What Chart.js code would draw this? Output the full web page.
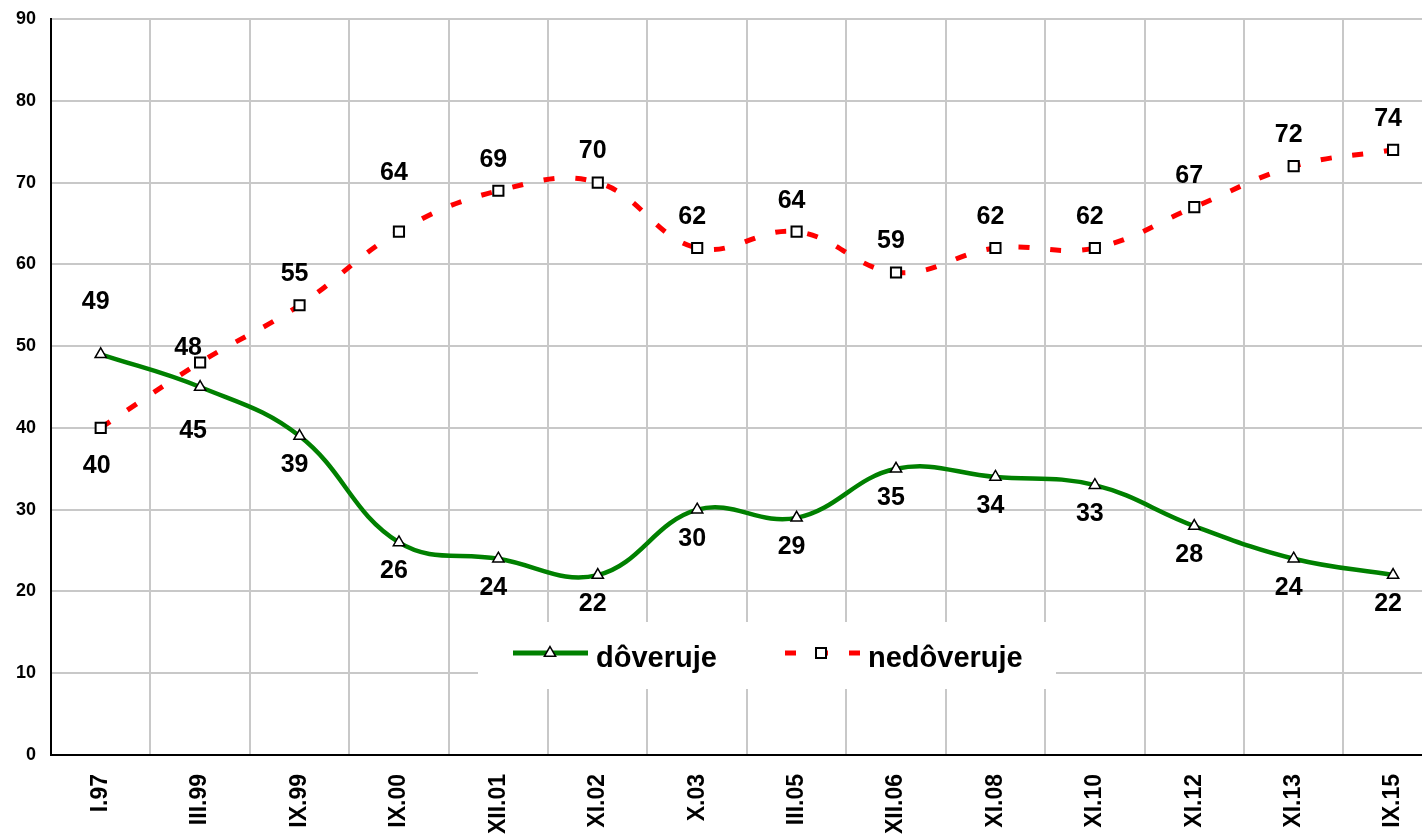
<!DOCTYPE html>
<html>
<head>
<meta charset="utf-8">
<script src="https://cdn.jsdelivr.net/npm/chart.js@4.4.1/dist/chart.umd.min.js"></script>
<style>
    html, body { margin: 0; padding: 0; background: #fff; overflow: hidden; }
    canvas { display: block; }
</style>
</head>
<body>
<canvas id="chart" width="1452" height="838"></canvas>
<script>
const periods = ['I.97', 'III.99', 'IX.99', 'IX.00', 'XII.01', 'XI.02', 'X.03', 'III.05', 'XII.06', 'XI.08', 'XI.10', 'XI.12', 'XI.13', 'IX.15'];
const trustValues = [49, 45, 39, 26, 24, 22, 30, 29, 35, 34, 33, 28, 24, 22];
const distrustValues = [40, 48, 55, 64, 69, 70, 62, 64, 59, 62, 62, 67, 72, 74];
const seriesNames = ['dôveruje', 'nedôveruje'];
const yMin = 0, yMax = 90, yStep = 10;

const FONT = '"Liberation Sans", Arial, sans-serif';
const GREEN = '#008000';
const RED = '#ff0000';
const GRID = '#c8c8c8';

// where each value label sits relative to its point: [dx, dy]
const labelShift = [
    (i) => i === 0 ? [-5, -52] : i === 1 ? [-7, 44] : [-5, 29],
    (i) => i === 0 ? [-4, 38] : i === 1 ? [-12, -14] : i === 3 ? [-5, -59] : [-5, -31],
];

const valueLabels = {
    id: 'valueLabels',
    afterDatasetsDraw(chart) {
        const ctx = chart.ctx;
        ctx.save();
        ctx.font = `bold 25px ${FONT}`;
        ctx.fillStyle = '#000';
        ctx.textAlign = 'center';
        ctx.textBaseline = 'middle';
        chart.data.datasets.forEach((ds, d) => {
            chart.getDatasetMeta(d).data.forEach((pt, i) => {
                const [dx, dy] = labelShift[d](i);
                ctx.fillText(String(ds.data[i]), pt.x + dx, pt.y + dy);
            });
        });
        ctx.restore();
    }
};

const drawMarker = (ctx, style, x, y) => {
    ctx.save();
    ctx.fillStyle = '#fff';
    ctx.strokeStyle = '#000';
    ctx.setLineDash([]);
    ctx.beginPath();
    if (style === 'triangle') {
        ctx.lineWidth = 1.5;
        const r = 6.5;
        ctx.moveTo(x, y - r);
        ctx.lineTo(x + r * 0.866, y + r * 0.5);
        ctx.lineTo(x - r * 0.866, y + r * 0.5);
        ctx.closePath();
    } else {
        ctx.lineWidth = 2;
        ctx.rect(x - 5, y - 5, 10, 10);
    }
    ctx.fill();
    ctx.stroke();
    ctx.restore();
};

// legend box sits inside the plot, over the gridlines
const innerLegend = {
    id: 'innerLegend',
    beforeDatasetsDraw(chart) {
        const ctx = chart.ctx;
        const y = 653;
        ctx.save();
        ctx.fillStyle = '#fff';
        ctx.fillRect(478, 622, 578, 67);

        ctx.strokeStyle = GREEN;
        ctx.lineWidth = 5;
        ctx.beginPath();
        ctx.moveTo(513, y);
        ctx.lineTo(588, y);
        ctx.stroke();
        drawMarker(ctx, 'triangle', 550, y);

        ctx.strokeStyle = RED;
        ctx.setLineDash([11, 21]);
        ctx.beginPath();
        ctx.moveTo(785, y);
        ctx.lineTo(860, y);
        ctx.stroke();
        ctx.setLineDash([]);
        drawMarker(ctx, 'rect', 821, y);

        ctx.fillStyle = '#000';
        ctx.font = `bold 29px ${FONT}`;
        ctx.textAlign = 'left';
        ctx.textBaseline = 'alphabetic';
        ctx.fillText(seriesNames[0], 596, 667);
        ctx.fillText(seriesNames[1], 868, 667);
        ctx.restore();
    }
};

const chart = new Chart(document.getElementById('chart').getContext('2d'), {
    type: 'line',
    data: {
        labels: periods,
        datasets: [{
            label: seriesNames[0],
            data: trustValues,
            borderColor: GREEN,
            borderWidth: 4.5,
            tension: 0.4,
            pointStyle: 'triangle',
            pointRadius: 6.5,
            pointBackgroundColor: '#fff',
            pointBorderColor: '#000',
            pointBorderWidth: 1.5,
        }, {
            label: seriesNames[1],
            data: distrustValues,
            borderColor: RED,
            borderWidth: 5,
            borderDash: [11, 21],
            tension: 0.4,
            pointStyle: 'rect',
            pointRadius: 7.2,
            pointBackgroundColor: '#fff',
            pointBorderColor: '#000',
            pointBorderWidth: 2,
        }]
    },
    options: {
        responsive: false,
        animation: false,
        events: [],
        layout: { padding: { top: 19, right: 0, left: 0, bottom: 0 } },
        plugins: {
            legend: { display: false },
            tooltip: { enabled: false },
        },
        scales: {
            x: {
                offset: true,
                grid: { color: GRID, lineWidth: 2, offset: true, drawTicks: false },
                border: { color: '#000', width: 2 },
                ticks: {
                    color: '#000',
                    font: { family: FONT, size: 23, weight: 'bold' },
                    minRotation: 90,
                    maxRotation: 90,
                    padding: 19,
                    autoSkip: false,
                },
                afterFit: (scale) => { scale.height = 83; },
            },
            y: {
                min: yMin,
                max: yMax,
                grid: { color: GRID, lineWidth: 2, drawTicks: false },
                border: { color: '#000', width: 2 },
                ticks: {
                    stepSize: yStep,
                    color: '#000',
                    font: { family: FONT, size: 18, weight: 'bold' },
                    padding: 15,
                },
                afterFit: (scale) => {
                    scale.width = 51;
                    // let layout.padding alone decide where the plot starts
                    scale.paddingTop = 0;
                    scale.paddingBottom = 0;
                },
            },
        },
    },
    plugins: [innerLegend, valueLabels],
});
</script>
</body>
</html>
